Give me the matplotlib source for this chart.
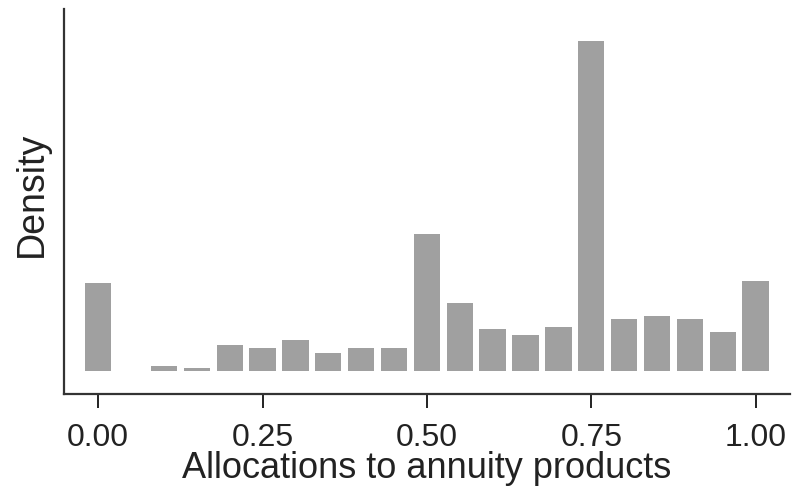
import numpy as np
import matplotlib
matplotlib.use("Agg")
import matplotlib.pyplot as plt

plt.rcParams['font.family'] = ['Liberation Sans', 'DejaVu Sans']

# bin centres of the allocation histogram and their densities
bin_centers = [0.00, 0.05, 0.10, 0.15, 0.20, 0.25, 0.30, 0.35, 0.40, 0.45, 0.50,
               0.55, 0.60, 0.65, 0.70, 0.75, 0.80, 0.85, 0.90, 0.95, 1.00]
density = [1.49, 0.00, 0.08, 0.04, 0.43, 0.39, 0.52, 0.30, 0.39, 0.39, 2.33,
           1.15, 0.70, 0.61, 0.74, 5.61, 0.87, 0.92, 0.87, 0.65, 1.53]
tick_vals = [0.00, 0.25, 0.50, 0.75, 1.00]
tick_labels = ['0.00', '0.25', '0.50', '0.75', '1.00']

fig = plt.figure(figsize=(8.02, 4.89), dpi=100)
ax = fig.add_axes([0.0798, 0.1922, 0.905, 0.7878])

ax.bar(bin_centers, density, width=0.04, color='#a0a0a0', linewidth=0)

ax.set_xlim(-0.052, 1.052)
ax.set_ylim(-0.40, 6.16)

ax.set_xticks(tick_vals)
ax.set_xticklabels(tick_labels)
ax.set_yticks([])
ax.tick_params(axis='x', length=10, width=1.4, color='#222222',
               labelsize=23, pad=10, labelcolor='#222222')

for side in ['top', 'right']:
    ax.spines[side].set_visible(False)
for side in ['left', 'bottom']:
    ax.spines[side].set_linewidth(1.6)
    ax.spines[side].set_color('#333333')

ax.set_xlabel('Allocations to annuity products', fontsize=26, color='#222222', labelpad=-1)
ax.set_ylabel('Density', fontsize=27, color='#222222')
ax.yaxis.set_label_coords(-0.02, 0.52)

fig.savefig('out.png', dpi=100)
